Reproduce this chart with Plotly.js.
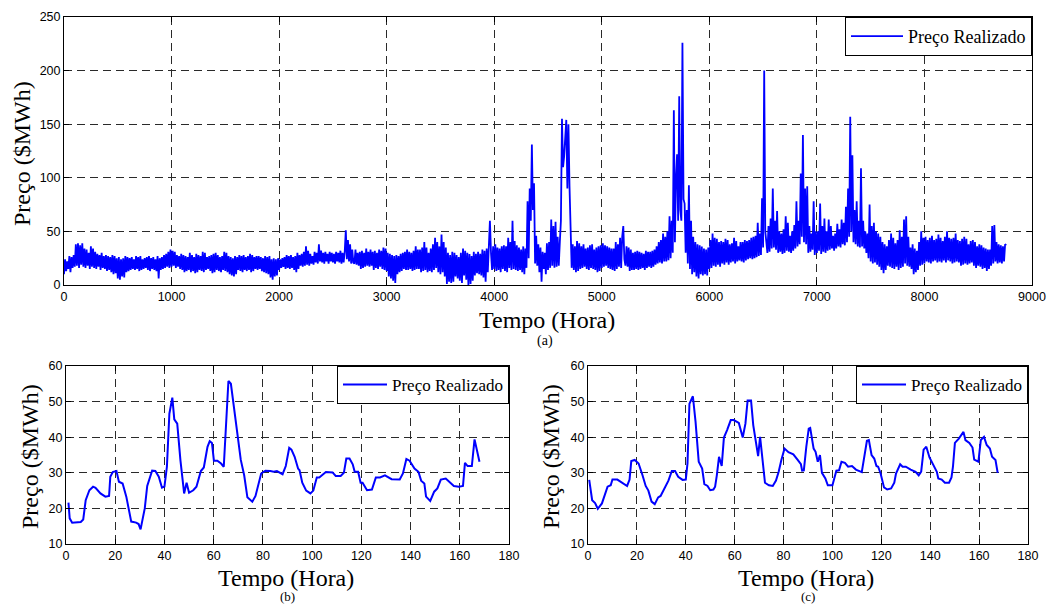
<!DOCTYPE html>
<html>
<head>
<meta charset="utf-8">
<script src="https://cdn.plot.ly/plotly-3.0.1.min.js"></script>
<style>html,body{margin:0;padding:0;background:#fff;}#chart{width:1050px;height:605px;}</style>
</head>
<body>
<div id="chart"></div>
<script>
// ---------------- DATA ----------------
const seriesName = "Preço Realizado";

const yearStartHour = 0;
const yearStepHours = 10;
const yearPrice = [
 10,24,13,22,15,27,12,26,16,28, 17,38,18,39,16,37,19,39,17,34, 16,33,18,30,15,36,17,34,16,31, 15,29,17,28,14,30,16,27,15,28, 13,27,14,26,12,28,10,27,11,25,
 6,26,5,24,8,25,7,27,12,26, 13,25,14,26,15,24,14,27,15,26, 13,27,14,24,15,25,16,26,14,27, 13,25,15,26,14,24,13,27,6,25, 14,26,15,28,16,29,17,31,16,33,
 17,32,18,31,16,28,17,27,15,29, 14,28,12,27,13,26,14,30,12,28, 13,26,11,29,12,28,14,27,13,31, 12,30,14,26,15,27,13,28,11,29, 12,30,14,28,13,26,12,27,14,31,
 13,30,12,27,10,26,9,25,8,27, 10,26,14,28,13,27,12,28,14,26, 13,27,14,29,12,28,13,26,15,27, 14,27,15,26,13,25,12,27,11,26, 10,27,7,24,5,25,8,24,9,25,
 14,24,16,25,17,26,15,28,16,27, 15,28,16,26,14,27,12,30,15,28, 18,29,17,31,18,36,19,32,18,29, 20,27,19,31,21,30,20,38,22,32, 21,30,20,31,22,29,20,31,22,30,
 21,29,20,31,22,30,21,32,20,30, 21,31,51,24,42,22,38,20,33,21, 20,33,19,30,18,31,15,32,16,30, 17,34,18,31,17,33,18,31,14,32, 16,30,15,33,17,32,15,35,14,34,
 13,30,8,29,6,28,4,27,2,28, 10,27,12,29,13,30,15,31,14,33, 14,31,15,30,13,32,14,36,15,33, 15,33,12,35,13,40,14,35,12,30, 13,34,12,38,14,44,16,40,12,36,
 10,47,12,40,8,35,1,30,3,28, 2,31,3,30,8,28,6,26,4,30, 2,34,9,32,5,30,0,29,1,27, 4,31,9,29,11,31,10,29,9,33, 7,32,3,34,12,32,60,30,14,36,
 15,38,13,35,14,34,12,36,15,37, 13,36,12,44,16,40,14,60,15,41, 14,37,13,35,14,33,12,36,10,34, 16,78,25,90,60,131,70,95,20,46, 18,38,12,35,3,31,15,30,10,39,
 14,40,16,61,18,55,16,59,17,45, 18,40,60,155,110,120,140,154,90,150, 92,40,16,38,14,36,12,41,13,39, 15,36,16,38,17,34,15,35,14,37, 16,38,15,33,14,35,12,36,13,37,
 16,39,17,37,18,36,16,35,15,34, 14,34,13,40,15,38,17,44,16,45, 55,24,18,36,17,35,13,33,14,30, 14,31,15,32,14,31,15,30,16,29, 14,32,16,31,17,31,16,32,17,33,
 19,36,20,40,21,42,20,48,22,45, 22,50,23,64,25,60,30,163,40,100, 122,60,176,70,60,226,80,76,30,70, 20,93,15,60,10,45,12,40,8,38, 6,37,10,36,9,34,10,33,9,35,
 15,42,16,48,18,44,17,43,19,40, 17,41,20,40,19,43,21,42,19,38, 21,39,22,44,20,41,22,36,23,40, 22,40,21,42,23,41,24,42,25,44, 24,45,25,46,26,58,27,48,28,81,
 35,200,50,40,30,55,31,62,34,90, 35,60,33,69,30,50,31,48,29,52, 30,64,32,58,31,46,30,50,32,56, 34,78,36,60,38,104,45,140,40,90, 38,92,30,55,31,48,33,78,28,50,
 30,50,32,76,29,55,31,62,30,50, 32,61,33,55,34,46,32,48,34,57, 36,52,35,61,38,58,37,73,40,90, 45,157,50,121,40,70,38,78,36,60, 35,109,36,60,34,50,30,48,25,75,
 22,55,20,58,21,50,19,48,17,45, 14,40,11,38,14,36,18,42,17,48, 16,44,15,39,17,42,14,51,16,45, 17,61,20,64,18,45,17,35,15,38, 10,34,12,32,14,40,18,50,19,44,
 20,45,22,42,21,44,20,46,22,42, 23,43,21,47,22,44,21,41,23,45, 21,50,23,44,22,43,20,44,21,48, 22,42,21,41,18,43,19,45,20,43, 19,38,20,41,21,42,18,40,16,36,
 18,38,17,37,15,35,16,34,13,33, 15,33,18,55,20,56,22,40,20,38, 21,37,20,36,22,38,37
];

// (b) one week
const weekBHours = [1,1.5,2.5,4,6,7,8,9.5,11,12,14,16,17.5,18,19,20.5,21.5,23,24.5,26.5,28.5,29.5,30.3,32,33,35,36.3,37.7,39,40,41,42,42.8,43.2,44,45.2,46.5,48,49,50,51.7,53,54.8,56,57.5,58.4,59.3,60.1,61.5,63,64.1,65,66,67,68.8,70,71,72.4,73.7,75.7,77,79.3,81,83,84.4,85.7,88,89.3,90.7,91.6,92.9,94.3,94.9,96,97.6,99.3,100.5,101.9,102.9,105.6,108.3,109.6,111.6,112.9,113.9,115.2,116.5,117.3,118.7,119.7,120.5,122.3,124.3,125.9,127.6,129.6,132.3,135.6,136.9,138.3,139.6,141.6,143.2,144.3,145.6,146.3,148,149.6,150.9,152.3,154.3,157.6,159.6,161.3,162.1,163.2,164.9,166,166.9,168];
const weekBPrice = [21.6,17.2,16.0,16,16.2,16.9,22.3,25.1,26.1,25.8,24.2,23.3,23.5,28.9,30.2,30.5,27.5,27,23.3,16.3,16,15.6,14.1,20,26.3,30.6,30.5,28.9,25.8,26.1,31.7,46.6,49.9,51.1,45,43.8,33.5,24.2,27.2,24.4,25.1,26.1,30.5,31.5,37.3,38.9,38.4,33.4,33.4,32.6,31.7,42.9,55.8,55,45.2,40.1,33.7,29.3,23.1,21.9,23.5,29.8,30.6,30.5,30.3,30.5,29.6,31.9,37,36.5,34.5,31.2,30.7,27.2,25,24.2,25,28.7,28.7,30.2,30.1,29.1,29.1,30,34,34,32.4,30.3,30.3,27.2,27.2,25.1,25.3,28.7,28.7,29.3,28.2,28.1,29.8,33.9,33.4,31.2,30.3,27.8,27,23.3,22.1,24.7,25.6,28.1,28.4,26.3,26.1,26.3,32.8,31.9,31.9,39.4,36.4,33.1];

// (c) another week
const weekCHours = [0.5,1.7,2.9,4,5.7,8,9.3,10,12,14,16,17,17.7,19.1,20.7,22.3,23.6,24.7,26,27.3,28.7,29.7,31.6,32.9,34.3,35.6,36.9,38.7,40,40.7,41.5,42.9,44,45.3,46.7,47.6,48.9,50,51.3,52,52.7,53.6,54.7,55.6,56.9,58.4,59.6,60.7,61.7,63.3,64.4,65.3,66.7,67.6,68.7,69.6,70.4,71.3,72.4,74,75.6,76.9,78,79.1,80.4,82,84,85.7,87.1,87.6,88.3,89.3,90.3,90.9,92.3,93.1,94,94.9,95.7,97.1,98.1,100,101.6,102.7,103.7,105.1,106.4,108,109.6,112,113.3,114.1,114.9,116,117.1,118,118.7,119.7,121.1,122.4,124,125.3,126,127.7,128.7,130,132,134,135.3,136.3,137.3,138.4,139.7,141.3,142.7,143.3,144.7,146,147.7,148.7,149.3,150.1,151.7,153.6,154.4,156,157.3,158,159.7,160.7,162,163.1,164.4,165.3,166.7,167.6];
const weekCPrice = [28,22.3,21.5,19.9,21.4,26.1,26.5,28.1,28.1,27.2,26.3,28.1,33.3,33.6,32.6,29.3,26.3,25,21.9,21.2,23.1,23.5,26.1,27.8,30.5,30.5,28.9,28,28.1,32.6,49.4,51.5,44.3,33.1,31.2,26.8,26.3,25.1,25.3,26.1,29.3,34.5,31.9,39.9,42,44.8,44.8,44.3,44,39.9,43.8,50.3,50.3,43.4,38.4,34.7,40.1,34.5,27.2,26.5,26.3,27.8,30.3,33.6,36.8,35.8,35.2,33.7,32.4,30.6,30.7,37.3,42.4,42.6,36.8,35.9,33.1,35,30,28.4,26.5,26.5,30.6,30.7,33.1,32.8,31.7,31.9,30.9,30.2,35.4,39,39.2,35,34,31.9,31.7,29.8,25.9,25.3,25.6,27.2,29.8,32.4,31.7,31.7,30.9,30.3,29.3,30.3,36.5,37.3,34.3,31.9,30.3,28.4,28.1,27.2,27.2,28.7,31.7,38.4,39.6,41.5,39.2,38.4,37.1,33.7,33.1,39.2,40.1,37.8,36.8,34.5,33.6,30];

// tick settings
const yearTicks = [0,1000,2000,3000,4000,5000,6000,7000,8000,9000];
const yearPriceTicks = [0,50,100,150,200,250];
const weekTicks = [0,20,40,60,80,100,120,140,160,180];
const weekPriceTicks = [10,20,30,40,50,60];

const yTitle = "Preço ($MWh)";
const xTitle = "Tempo (Hora)";

// ---------------- LAYOUT ----------------
const W = 1050, H = 605;
const fx = p => p / W;
const fy = p => 1 - p / H;
const serif = "Liberation Serif";
const sans = "Liberation Sans";

const baseAxis = {
  showline: true, linecolor: "#000", linewidth: 1, mirror: "ticks",
  ticks: "inside", ticklen: 5, tickwidth: 1, tickcolor: "#000",
  showgrid: true, gridcolor: "#2a2a2a", gridwidth: 1, griddash: "8px,5px",
  zeroline: false, tickfont: {family: sans, size: 12.5, color: "#000"},
  tickmode: "array", fixedrange: true
};

const lineStyle = {color: "#0000ff", width: 2};

const traces = [
  {type: "scatter", mode: "lines", name: seriesName, x0: yearStartHour, dx: yearStepHours, y: yearPrice,
   xaxis: "x", yaxis: "y", line: {color: "#0000ff", width: 1.8}, legend: "legend"},
  {type: "scatter", mode: "lines", name: seriesName, x: weekBHours, y: weekBPrice,
   xaxis: "x2", yaxis: "y2", line: lineStyle, legend: "legend2"},
  {type: "scatter", mode: "lines", name: seriesName, x: weekCHours, y: weekCPrice,
   xaxis: "x3", yaxis: "y3", line: lineStyle, legend: "legend3"}
];

const legendBase = {
  xanchor: "right", yanchor: "top", bgcolor: "#fff", bordercolor: "#000", borderwidth: 1,
  font: {family: serif, size: 17, color: "#000"}, itemwidth: 44, tracegroupgap: 0
};

function ann(text, x, y, size, angle) {
  return {text: text, xref: "paper", yref: "paper", x: fx(x), y: fy(y), showarrow: false,
          xanchor: "center", yanchor: "middle", textangle: angle || 0,
          font: {family: serif, size: size, color: "#000"}};
}

const layout = {
  width: W, height: H, margin: {l: 0, r: 0, t: 0, b: 0},
  paper_bgcolor: "#fff", plot_bgcolor: "#fff", showlegend: true,
  font: {family: serif, color: "#000"},
  xaxis: Object.assign({}, baseAxis, {domain: [fx(64), fx(1032)], anchor: "y", range: [0, 9000], tickvals: yearTicks}),
  yaxis: Object.assign({}, baseAxis, {domain: [fy(285), fy(17)], anchor: "x", range: [0, 250], tickvals: yearPriceTicks}),
  xaxis2: Object.assign({}, baseAxis, {domain: [fx(66), fx(509)], anchor: "y2", range: [0, 180], tickvals: weekTicks}),
  yaxis2: Object.assign({}, baseAxis, {domain: [fy(544), fy(366)], anchor: "x2", range: [10, 60], tickvals: weekPriceTicks}),
  xaxis3: Object.assign({}, baseAxis, {domain: [fx(588), fx(1028)], anchor: "y3", range: [0, 180], tickvals: weekTicks}),
  yaxis3: Object.assign({}, baseAxis, {domain: [fy(544), fy(366)], anchor: "x3", range: [10, 60], tickvals: weekPriceTicks}),
  legend: Object.assign({}, legendBase, {x: fx(1032), y: fy(17), itemwidth: 52, font: {family: serif, size: 18, color: "#000"}}),
  legend2: Object.assign({}, legendBase, {x: fx(509), y: fy(366)}),
  legend3: Object.assign({}, legendBase, {x: fx(1028), y: fy(366)}),
  annotations: [
    ann(yTitle, 22, 154, 24, -90),
    ann(xTitle, 547, 320, 24),
    ann("(a)", 545, 341, 14),
    ann(yTitle, 30, 457, 24, -90),
    ann(xTitle, 286, 578, 24),
    ann("(b)", 287, 596, 13),
    ann(yTitle, 551, 457, 24, -90),
    ann(xTitle, 806, 578, 24),
    ann("(c)", 808, 596, 13)
  ]
};

Plotly.newPlot("chart", traces, layout, {staticPlot: true, displayModeBar: false});
</script>
</body>
</html>
